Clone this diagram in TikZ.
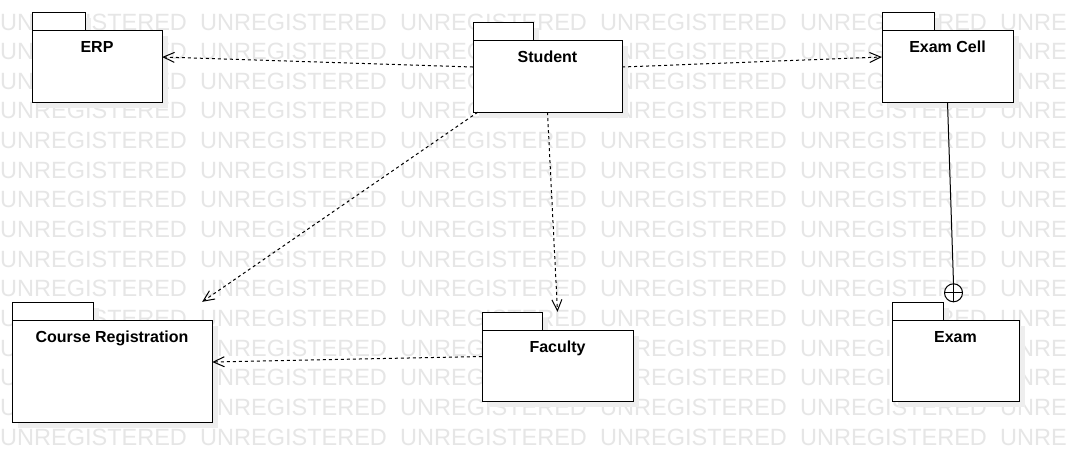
\documentclass[tikz,border=0pt]{standalone}
\usepackage{fontspec}
\setmainfont{Liberation Sans}
\usetikzlibrary{arrows.meta,fit}
\definecolor{watermark}{RGB}{230,230,230}
\definecolor{pkgshadow}{RGB}{238,238,238}
\tikzset{%
    pkgline/.style={draw=black, line width=1pt, fill=white},
    pkgname/.style={font=\bfseries\fontsize{16}{18}\selectfont, inner sep=0pt, anchor=base},
    wmtext/.style={text=watermark, font=\fontsize{23.5}{24}\selectfont, inner sep=0pt, anchor=base west},
    depends/.style={draw, line width=1pt, dash pattern=on 3pt off 3pt,
        -{Straight Barb[length=11pt,width=10pt]}},
    nesting/.style={draw, line width=1pt},
    nestmark/.style={circle, draw, line width=1pt, fill=white, minimum size=18pt, inner sep=0pt}
}
% #1 name, #2 left, #3 tab top, #4 right, #5 bottom, #6 tab right, #7 label
\newcommand{\umlpackage}[7]{%
    \fill[pkgshadow] (#2+6,#3+6) rectangle (#6+6,#3+24);
    \fill[pkgshadow] (#2+6,#3+24) rectangle (#4+6,#5+6);
    \draw[pkgline] (#2,#3) rectangle (#6,#3+18);
    \draw[pkgline] (#2,#3+18) rectangle (#4,#5);
    \node[inner sep=0pt, fit={(#2,#3) (#4,#5)}] (#1) {};
    \node[pkgname] (#1-name) at ({(#2+#4)/2},#3+40) {#7};
}
\begin{document}
\begin{tikzpicture}[x=1pt,y=-1pt]
    \useasboundingbox (0,0) rectangle (1067,472);
    \fill[white] (0,0) rectangle (1067,472);
    % watermark
    \begin{scope}
    \clip (0,0) rectangle (1067,472);
    \foreach \row in {0,...,14}
    {
    \foreach \col in {0,...,5}
    {
    \node[wmtext] (wm-\row-\col) at (\col*200, 30+\row*29.65) {UNREGISTERED};
    }
    }
    \end{scope}
    % packages
    \umlpackage{erp}{32}{12}{162}{102}{85}{ERP}
    \umlpackage{student}{473}{22}{622}{112}{533}{Student}
    \umlpackage{examcell}{882}{12}{1013}{102}{934}{Exam Cell}
    \umlpackage{coursereg}{12}{302}{212}{422}{93}{Course Registration}
    \umlpackage{faculty}{482}{312}{633}{401}{542}{Faculty}
    \umlpackage{exam}{892}{302}{1019}{401}{943}{Exam}
    % dependencies
    \draw[depends] (student.west) -- (erp.east);
    \draw[depends] (student.east) -- (examcell.west);
    \draw[depends] ([xshift=5pt]student.south west) -- ([xshift=-10pt]coursereg.north east);
    \draw[depends] (student.south) -- (faculty.north);
    \draw[depends] (faculty.west) -- (coursereg.east);
    % nesting
    \node[nestmark] (nest) at ([xshift=-2pt,yshift=9pt]exam.north) {};
    \draw[nesting] (examcell.south) -- (nest.north);
    \draw[nesting] (nest.north) -- (nest.south) (nest.west) -- (nest.east);
\end{tikzpicture}
\end{document}
